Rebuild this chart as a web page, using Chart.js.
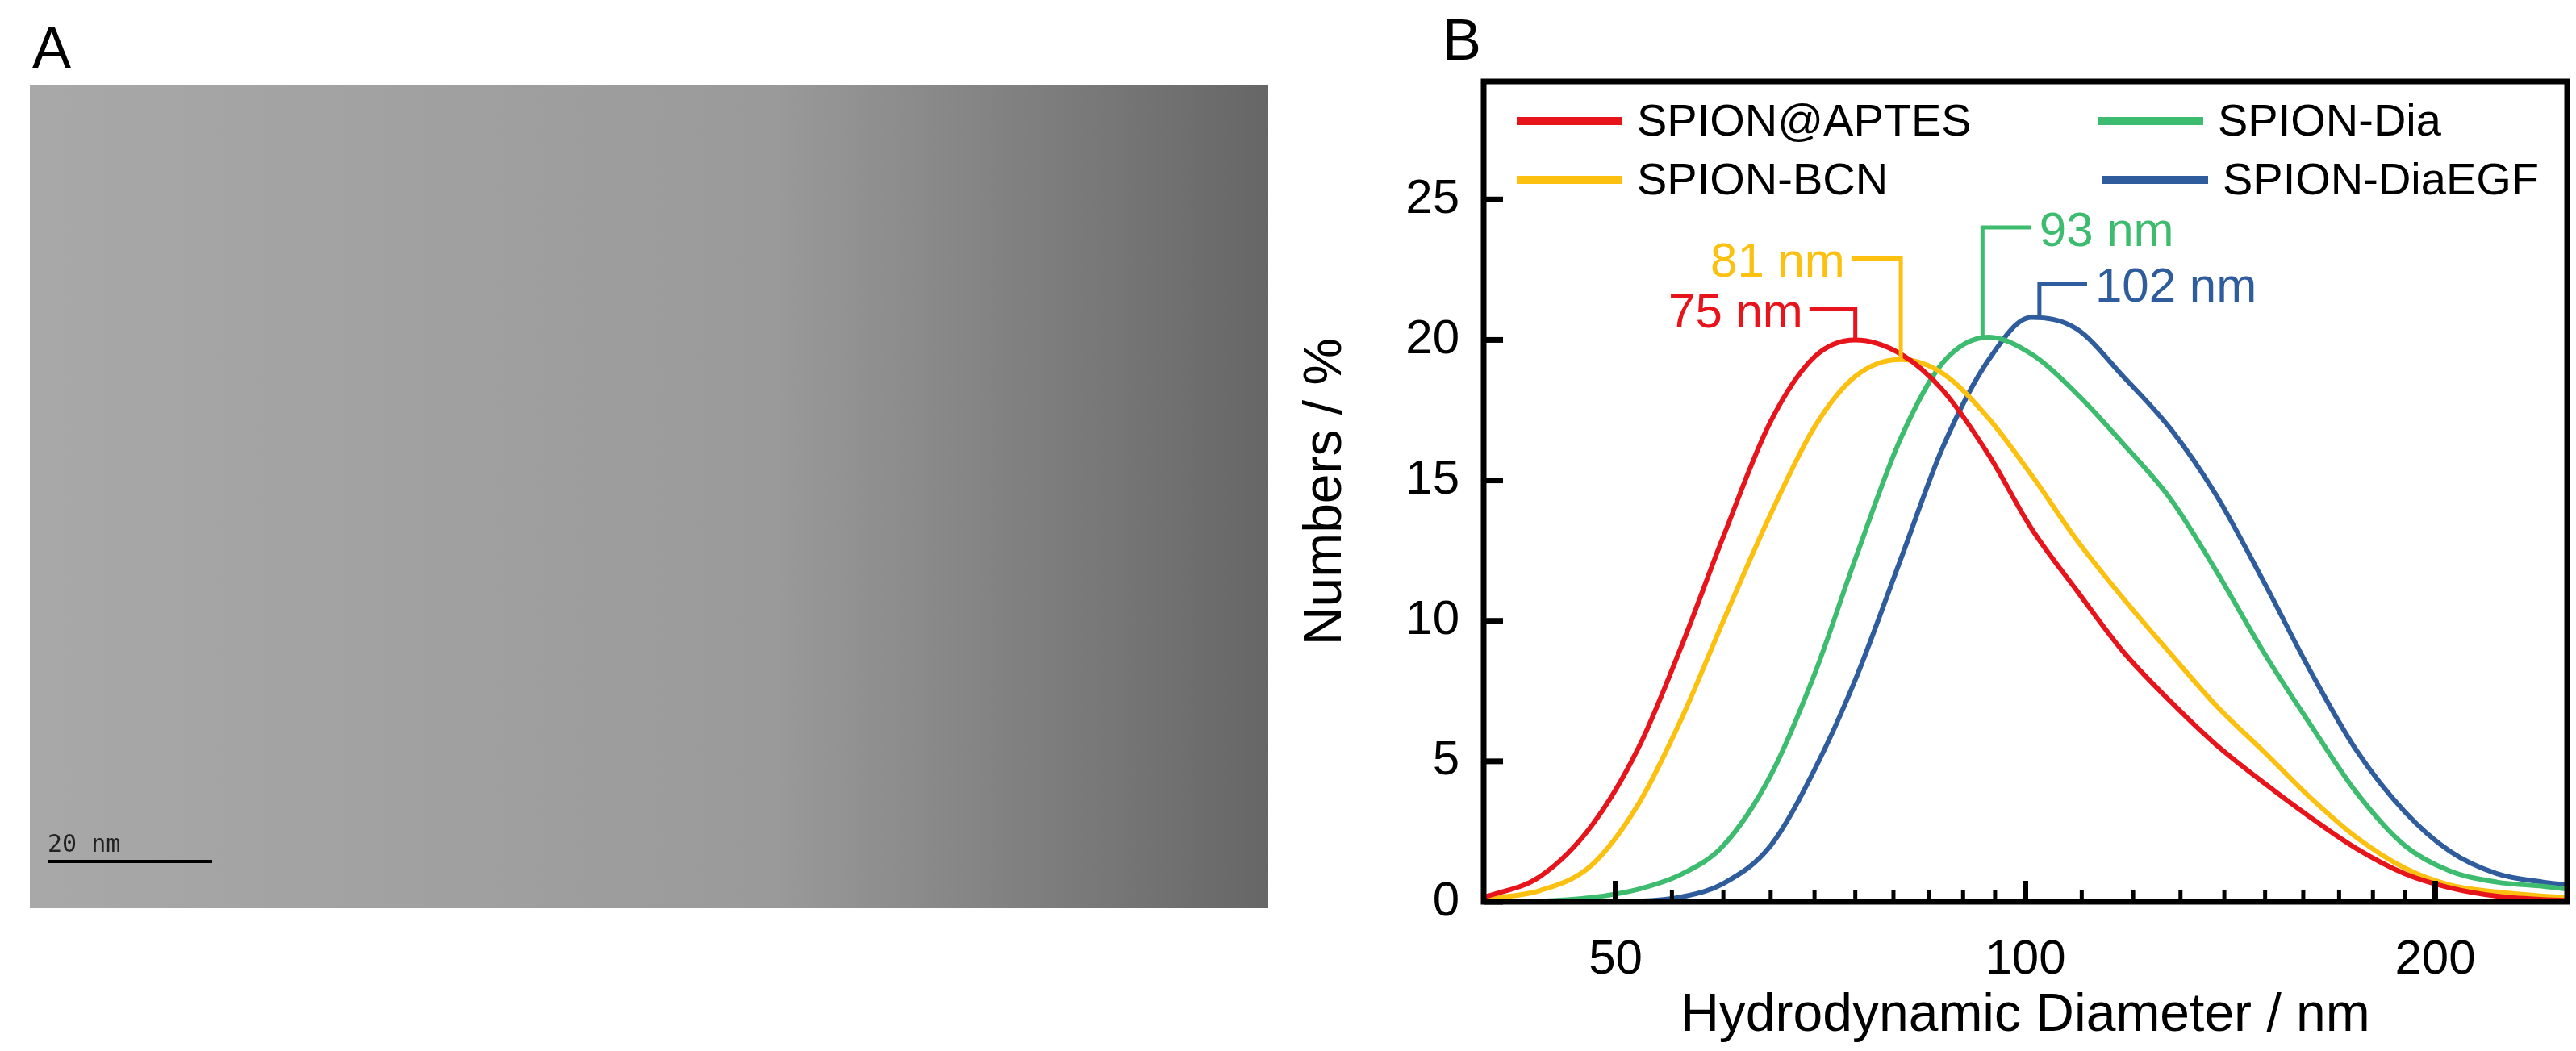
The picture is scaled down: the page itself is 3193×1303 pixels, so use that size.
<!DOCTYPE html>
<html><head><meta charset="utf-8">
<script src="https://cdn.jsdelivr.net/npm/chart.js@4"></script>
<style>
html,body{margin:0;padding:0;background:#fff;width:3193px;height:1303px;overflow:hidden;font-family:Arial,"Liberation Sans",sans-serif}
#tem{position:absolute;left:37px;top:106px;width:1535px;height:1020px}
#wrap{position:absolute;left:1600px;top:0;width:1593px;height:1303px}
.lab{position:absolute;font-size:72px;color:#000;font-family:"Liberation Sans",Arial,sans-serif}
</style></head><body>
<canvas id="tem" width="1535" height="1020"></canvas>
<div class="lab" style="left:40px;top:18px">A</div>
<div class="lab" style="left:1788px;top:8px">B</div>
<div id="wrap"><canvas id="c"></canvas></div>
<script>
// ---- data ----
const seriesNames = ['SPION@APTES','SPION-BCN','SPION-Dia','SPION-DiaEGF'];
const seriesColors = ['#e8141c','#fcc010','#3dbb6e','#2f5c9c'];
const diameters = [40,44,48,52,56,60,65,70,75,81,87,94,101,109,118,128,138,150,162,175,190,205,222,240,250];
const aptesY = [0.15,0.9,2.7,5.5,9.2,13.0,17.1,19.4,20.0,19.5,18.2,15.9,13.3,11.1,8.9,7.1,5.6,4.2,3.0,1.9,1.0,0.5,0.2,0.08,0.05];
const bcnY   = [0.1,0.4,1.3,3.5,6.6,10.0,13.8,16.9,18.7,19.3,18.8,17.2,15.2,12.9,10.8,8.8,7.0,5.3,3.7,2.3,1.2,0.6,0.35,0.2,0.15];
const diaY   = [0,0.02,0.15,0.45,1.0,2.0,4.5,8.1,12.2,16.5,19.2,20.1,19.5,18.1,16.3,14.3,11.8,8.8,6.3,3.9,2.0,1.1,0.7,0.55,0.45];
const egfY   = [0,0,0,0.02,0.18,0.65,2.0,4.7,7.9,12.2,16.2,19.3,20.8,20.4,18.7,16.8,14.5,11.3,8.2,5.4,3.2,1.8,1.0,0.7,0.6];
const peakLabels = ['75 nm','81 nm','93 nm','102 nm'];
const peakX = [75,81,93,102.4];
const peakY = [20.0,19.3,20.1,20.9];
const bracketTopY = [21.1,22.9,24.0,22.0];
const bracketEndX = [69.4,74.5,101,111];
const xMajor = [50,100,200];
const xMinor = [55,60,65,70,75,80,85,90,95,110,120,130,140,150,160,170,180,190];
const yTicks = [0,5,10,15,20,25];
const yData = [aptesY,bcnY,diaY,egfY];

(function(){
  const t=document.getElementById('tem').getContext('2d');
  const g=t.createLinearGradient(0,0,1535,0);
  g.addColorStop(0,'#a8a8a8');g.addColorStop(0.6,'#9a9a9a');g.addColorStop(1,'#666');
  t.fillStyle=g;t.fillRect(0,0,1535,1020);
  t.strokeStyle='#000';t.lineWidth=4;t.beginPath();t.moveTo(22,962);t.lineTo(226,962);t.stroke();
  t.fillStyle='#222';t.font='30px "DejaVu Sans Mono",monospace';t.fillText('20 nm',22,950);
})();

const FONT='"Liberation Sans",Arial,sans-serif';
const overlay={
  id:'overlay',
  afterDraw(chart){
    const {ctx,chartArea:a,scales:{x,y}}=chart;
    ctx.save();
    ctx.strokeStyle='#000';
    ctx.lineWidth=7;
    xMajor.forEach(v=>{const p=x.getPixelForValue(v);ctx.beginPath();ctx.moveTo(p,a.bottom);ctx.lineTo(p,a.bottom-26);ctx.stroke();});
    ctx.lineWidth=5;
    xMinor.forEach(v=>{const p=x.getPixelForValue(v);ctx.beginPath();ctx.moveTo(p,a.bottom);ctx.lineTo(p,a.bottom-15);ctx.stroke();});
    ctx.lineWidth=7;
    yTicks.forEach(v=>{const p=y.getPixelForValue(v);ctx.beginPath();ctx.moveTo(a.left,p);ctx.lineTo(a.left+24,p);ctx.stroke();});
    ctx.strokeRect(a.left,a.top,a.right-a.left,a.bottom-a.top);
    ctx.lineWidth=5;
    ctx.font='60px '+FONT;ctx.textBaseline='middle';
    for(let i=0;i<4;i++){
      const px=x.getPixelForValue(peakX[i]),py=y.getPixelForValue(peakY[i]);
      const ty=y.getPixelForValue(bracketTopY[i]),ex=x.getPixelForValue(bracketEndX[i]);
      ctx.strokeStyle=seriesColors[i];ctx.fillStyle=seriesColors[i];
      ctx.beginPath();ctx.moveTo(px,py);ctx.lineTo(px,ty);ctx.lineTo(ex,ty);ctx.stroke();
      if(ex<px){ctx.textAlign='right';ctx.fillText(peakLabels[i],ex-8,ty+6);}
      else{ctx.textAlign='left';ctx.fillText(peakLabels[i],ex+10,ty+6);}
    }
    ctx.font='56px '+FONT;ctx.textAlign='left';ctx.lineWidth=10;
    const cols=[a.left+41,a.left+761],rows=[a.top+49,a.top+122];
    for(let i=0;i<4;i++){
      const cx=cols[i<2?0:1]+(i==3?6:0);
      const r=rows[i%2];
      ctx.strokeStyle=seriesColors[i];
      ctx.beginPath();ctx.moveTo(cx,r);ctx.lineTo(cx+131,r);ctx.stroke();
      ctx.fillStyle='#000';ctx.fillText(seriesNames[i],cx+149,r+3);
    }
    ctx.restore();
  }
};

new Chart(document.getElementById('c'),{
  type:'line',
  data:{datasets:seriesNames.map((n,i)=>({
    label:n,
    data:diameters.map((v,j)=>({x:v,y:yData[i][j]})),
    borderColor:seriesColors[i],borderWidth:6,pointRadius:0,
    cubicInterpolationMode:'monotone',fill:false
  }))},
  options:{
    responsive:true,maintainAspectRatio:false,animation:false,devicePixelRatio:1,
    layout:{padding:{top:101,right:11,left:0,bottom:0}},
    plugins:{legend:{display:false},tooltip:{enabled:false}},
    scales:{
      x:{type:'logarithmic',min:40,max:250,
        afterBuildTicks(s){s.ticks=xMajor.map(v=>({value:v}));},
        afterFit(s){s.height=185;},
        grid:{display:false},border:{display:false},
        ticks:{autoSkip:false,maxRotation:0,padding:28,color:'#000',font:{size:60,family:FONT},callback:v=>String(v)},
        title:{display:true,text:'Hydrodynamic Diameter / nm',color:'#000',font:{size:66,family:FONT},padding:{top:10}}
      },
      y:{min:0,max:29.2,
        afterBuildTicks(s){s.ticks=yTicks.map(v=>({value:v}));},
        afterFit(s){s.width=239;},
        grid:{display:false},border:{display:false},
        ticks:{padding:22,color:'#000',font:{size:60,family:FONT}},
        title:{display:true,text:'Numbers / %',color:'#000',font:{size:66,family:FONT},padding:{bottom:10}}
      }
    }
  },
  plugins:[overlay]
});
</script>
</body></html>
